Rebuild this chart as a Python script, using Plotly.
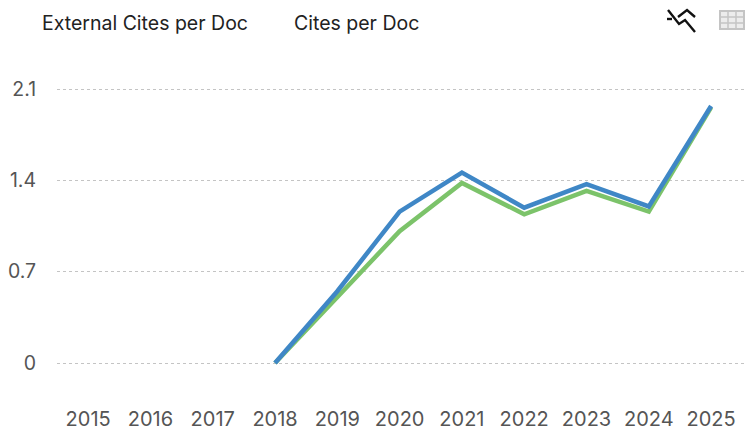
import plotly.graph_objects as go

W, H = 746, 433
PAD = 6
L, R, T, B = 57, 0, 89 - PAD, 70 - PAD
UNIT_PX = 130.5

years = ["2015", "2016", "2017", "2018", "2019", "2020", "2021", "2022", "2023", "2024", "2025"]
cites_per_doc = [None, None, None, 0, 0.55, 1.16, 1.46, 1.19, 1.37, 1.20, 1.97]
external_cites_per_doc = [None, None, None, 0, 0.51, 1.01, 1.38, 1.14, 1.32, 1.16, 1.96]
y_ticks = [0, 0.7, 1.4, 2.1]
y_labels = ["0", "0.7", "1.4", "2.1"]
legend_names = ["External Cites per Doc", "Cites per Doc"]
legend_x_px = [42, 294]

FONT = "Inter, 'Noto Sans', sans-serif"


def px(x):
    return (x - L) / (W - L - R)


def py(y):
    return (H - B - y) / (H - T - B)


def path(points):
    return "M " + " L ".join(f"{px(x):.4f},{py(y):.4f}" for x, y in points)


fig = go.Figure()
fig.add_trace(go.Scatter(x=years, y=external_cites_per_doc, mode="lines", name=legend_names[0],
                         line=dict(color="#7cc36a", width=4.5), cliponaxis=False, showlegend=False))
fig.add_trace(go.Scatter(x=years, y=cites_per_doc, mode="lines", name=legend_names[1],
                         line=dict(color="#3f87c6", width=4.5), cliponaxis=False, showlegend=False))

shapes = []
# chart-type icon
for pts in ([(668, 10), (679, 24), (685, 20), (695, 32)],
            [(667, 19), (672, 19)],
            [(678, 17), (687, 10), (695, 17)]):
    shapes.append(dict(type="path", xref="paper", yref="paper", path=path(pts),
                       line=dict(color="#111111", width=2.4)))
# table icon
shapes.append(dict(type="rect", xref="paper", yref="paper", x0=px(720), x1=px(744), y0=py(29), y1=py(11),
                   line=dict(color="#c4c4c4", width=2), fillcolor="#ececec"))
for x in (728, 736):
    shapes.append(dict(type="line", xref="paper", yref="paper", x0=px(x), x1=px(x), y0=py(11), y1=py(29),
                       line=dict(color="#c4c4c4", width=1.5)))
for y in (17, 23):
    shapes.append(dict(type="line", xref="paper", yref="paper", x0=px(720), x1=px(744), y0=py(y), y1=py(y),
                       line=dict(color="#c4c4c4", width=1.5)))

annotations = [dict(text=n, x=px(x), y=py(23.5), xref="paper", yref="paper", xanchor="left", yanchor="middle",
                    showarrow=False, xshift=-2, font=dict(family=FONT, size=19.5, color="#222222"))
               for n, x in zip(legend_names, legend_x_px)]

fig.update_layout(
    width=W, height=H, margin=dict(l=L, r=R, t=T, b=B), autosize=False,
    paper_bgcolor="white", plot_bgcolor="white", showlegend=False,
    font=dict(family=FONT, size=19.5, color="#555555"),
    shapes=shapes, annotations=annotations,
    xaxis=dict(type="category", categoryorder="array", categoryarray=years, range=[-0.5, 10.56],
               showgrid=False, zeroline=False, showline=False, ticks="outside", ticklen=32,
               tickcolor="rgba(0,0,0,0)", tickfont=dict(size=20, color="#555555"), fixedrange=True),
    yaxis=dict(range=[-PAD / UNIT_PX, 2.1 + PAD / UNIT_PX], tickvals=y_ticks, ticktext=y_labels, showgrid=True,
               gridcolor="#c4c4c4", griddash="3px,3px", gridwidth=1, zeroline=False, showline=False,
               ticks="outside", ticklen=16, tickcolor="rgba(0,0,0,0)",
               tickfont=dict(size=19.5, color="#555555"), fixedrange=True),
)
fig.write_html("out.html", config={"displayModeBar": False},
               post_script="document.body.style.margin='0';document.body.style.overflow='hidden';")
